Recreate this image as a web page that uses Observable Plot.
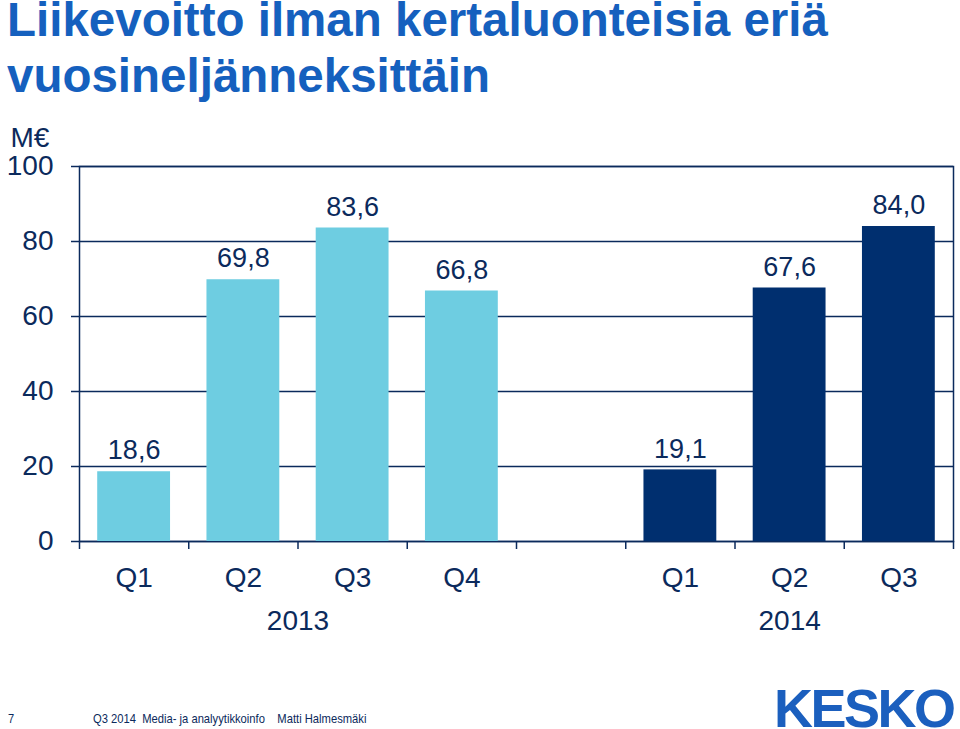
<!DOCTYPE html>
<html>
<head>
<meta charset="utf-8">
<script src="https://cdn.jsdelivr.net/npm/d3@7"></script>
<script src="https://cdn.jsdelivr.net/npm/@observablehq/plot@0.6"></script>
<style>
  html, body { margin: 0; padding: 0; background: #fff; }
  body { width: 960px; height: 729px; position: relative; overflow: hidden; font-family: "Liberation Sans", Arial, Helvetica, sans-serif; }
  .title { position: absolute; left: 7px; font-weight: bold; font-size: 47.5px; line-height: 0.8em; color: #1560be; white-space: nowrap; }
  #t1 { top: 1px; }
  #t2 { top: 57px; }
  #chart { position: absolute; left: 0; top: 110px; }
  #pg { position: absolute; left: 8px; top: 711px; font-size: 13.5px; color: #0b2a5c; transform: scaleX(0.82); transform-origin: left center; }
  #foot { position: absolute; left: 93px; top: 711px; font-size: 13.5px; color: #0b2a5c; white-space: pre; transform: scaleX(0.83); transform-origin: left center; }
  #logo { position: absolute; left: 774px; top: 688px; font-size: 54px; line-height: 0.75em; font-weight: bold; color: #1b5fbe; letter-spacing: -2.5px; }
</style>
</head>
<body>
<div class="title" id="t1">Liikevoitto ilman kertaluonteisia eriä</div>
<div class="title" id="t2">vuosineljänneksittäin</div>
<div id="chart"></div>
<div id="pg">7</div>
<div id="foot">Q3 2014  Media- ja analyytikkoinfo    Matti Halmesmäki</div>
<div id="logo">KESKO</div>
<script>
const slotLabels = ["Q1", "Q2", "Q3", "Q4", "", "Q1", "Q2", "Q3"];
const slotYears = ["2013", "2013", "2013", "2013", "", "2014", "2014", "2014"];
const values = [18.6, 69.8, 83.6, 66.8, null, 19.1, 67.6, 84.0];
const yTicks = [0, 20, 40, 60, 80, 100];
const yearNames = ["2013", "2014"];
const unitLabel = "M€";

const slots = slotLabels.map((q, i) => ({ i, q, year: slotYears[i], value: values[i] }));
const bars = slots.filter(d => d.value != null);
const years = yearNames.map(y => {
  const s = slots.filter(d => d.year === y);
  return { year: y, x: d3.mean(s, d => d.i + 0.5) };
});
const fmt = v => d3.format(".1f")(v).replace(".", ",");
const navy = "#0b2a5c";

const chart = Plot.plot({
  width: 960,
  height: 560,
  marginLeft: 79,
  marginRight: 7,
  marginTop: 56,
  marginBottom: 129,
  style: { color: navy, fontFamily: "'Liberation Sans', Arial, Helvetica, sans-serif", background: "transparent" },
  x: { domain: [0, slots.length], axis: null },
  y: { domain: [0, 100], axis: null },
  color: { domain: yearNames, range: ["#6ecde1", "#002f6f"] },
  marks: [
    Plot.gridY(yTicks, { stroke: navy, strokeOpacity: 1, strokeWidth: 1.5 }),
    Plot.frame({ stroke: navy, strokeWidth: 1.5 }),
    Plot.axisY(yTicks, { tickSize: 8, tickPadding: 18, fontSize: 28, label: null, strokeWidth: 1.5 }),
    Plot.axisX(d3.range(0, slots.length + 1), { tickSize: 8, tickFormat: () => "", label: null, strokeWidth: 1.5 }),
    Plot.rectY(bars, { x1: d => d.i + 1 / 6, x2: d => d.i + 5 / 6, y: "value", fill: "year" }),
    Plot.text(bars, { x: d => d.i + 0.5, y: "value", text: d => fmt(d.value), dy: -21, fontSize: 27, fill: navy, lineAnchor: "middle" }),
    Plot.text(slots.filter(d => d.q), { x: d => d.i + 0.5, text: "q", frameAnchor: "bottom", lineAnchor: "middle", dy: 37, fontSize: 28, fill: navy }),
    Plot.text(years, { x: "x", text: "year", frameAnchor: "bottom", lineAnchor: "middle", dy: 80, fontSize: 28, fill: navy }),
    Plot.text([unitLabel], { frameAnchor: "top-left", lineAnchor: "middle", dx: -69, dy: -28, textAnchor: "start", fontSize: 28, fill: navy })
  ]
});
document.getElementById("chart").appendChild(chart);
</script>
</body>
</html>
